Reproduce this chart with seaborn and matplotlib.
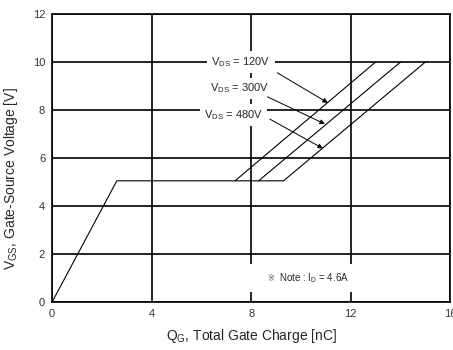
import numpy as np
import pandas as pd
import matplotlib
matplotlib.use("Agg")
import matplotlib.pyplot as plt
import seaborn as sns

# ---------------------------------------------------------
# Data
# ---------------------------------------------------------
series = ["120V", "300V", "480V"]
qg_ramp = [0.0, 2.6]          # linear charge-up to plateau
vgs_ramp = [0.0, 5.05]
plateau_v = 5.05
qg_plateau_end = [7.35, 8.3, 9.3]   # end of Miller plateau per VDS
qg_final = [13.0, 14.0, 15.0]       # where VGS reaches 10 V
vgs_final = 10.0

label_xy = [(6.4, 10.0), (6.35, 8.9), (6.1, 7.8)]
arrow_from = [(9.05, 9.55), (8.65, 8.55), (8.75, 7.62)]
arrow_to = [(11.08, 8.3), (10.96, 7.42), (10.88, 6.4)]

rows = [{"Qg": qg_ramp[0], "Vgs": vgs_ramp[0], "VDS": "ramp"},
        {"Qg": qg_ramp[1], "Vgs": vgs_ramp[1], "VDS": "ramp"},
        {"Qg": max(qg_plateau_end), "Vgs": plateau_v, "VDS": "ramp"}]
for s, qe, qf in zip(series, qg_plateau_end, qg_final):
    rows += [{"Qg": qe, "Vgs": plateau_v, "VDS": s},
             {"Qg": qf, "Vgs": vgs_final, "VDS": s}]
df = pd.DataFrame(rows)

# ---------------------------------------------------------
# Plot
# ---------------------------------------------------------
sns.set_style("white")
plt.rcParams["font.family"] = ["Liberation Sans", "DejaVu Sans"]
plt.rcParams["mathtext.default"] = "regular"

fig = plt.figure(figsize=(4.53, 3.5), dpi=100)
ax = fig.add_axes([0.115, 0.137, 0.879, 0.823])

for s in ["ramp"] + series:
    sub = df[df["VDS"] == s]
    sns.lineplot(data=sub, x="Qg", y="Vgs", ax=ax, color="black", lw=0.8,
                 sort=False, estimator=None, legend=False, zorder=3)

ax.set_xlim(0, 16)
ax.set_ylim(0, 12)
ax.set_xticks([0, 4, 8, 12, 16])
ax.set_yticks([0, 2, 4, 6, 8, 10, 12])
ax.set_xticks([2, 6, 10, 14], minor=True)
ax.set_yticks(np.arange(1, 12, 2), minor=True)
ax.grid(True, which="major", color="black", lw=1.2)
ax.tick_params(which="major", length=0, labelsize=8, labelcolor="#333333", pad=5)
ax.tick_params(which="minor", direction="in", length=3, width=0.8, color="black")
for sp in ax.spines.values():
    sp.set_color("black")
    sp.set_linewidth(1.2)

ax.set_xlabel("Q$_{G}$, Total Gate Charge [nC]", fontsize=10, labelpad=6)
ax.set_ylabel("V$_{GS}$, Gate-Source Voltage [V]", fontsize=10)
ax.yaxis.set_label_coords(-0.08, 0.43)

for s, (lx, ly), a0, a1 in zip(series, label_xy, arrow_from, arrow_to):
    ax.text(lx, ly, "V$_{DS}$ = " + s, fontsize=8, ha="left", va="center",
            zorder=4, bbox=dict(boxstyle="square,pad=0.35", fc="white", ec="none"))
    ax.annotate("", xy=a1, xytext=a0, zorder=5,
                arrowprops=dict(arrowstyle="-|>", color="black", lw=0.7,
                                mutation_scale=7, shrinkA=0, shrinkB=0))

# white patch breaking the grid behind the note
ax.text(10.0, 1.0, " " * 40, fontsize=7, ha="center", va="center", zorder=4,
        bbox=dict(boxstyle="square,pad=0.9", fc="white", ec="none"))
ax.text(8.65, 1.0, "※", fontsize=6, family="DejaVu Sans", ha="left",
        va="center", color="#444444", zorder=5)
ax.text(9.1, 1.0, "Note : I$_{D}$ = 4.6A", fontsize=7, ha="left", va="center",
        zorder=5)

fig.savefig("out.png", dpi=100)
